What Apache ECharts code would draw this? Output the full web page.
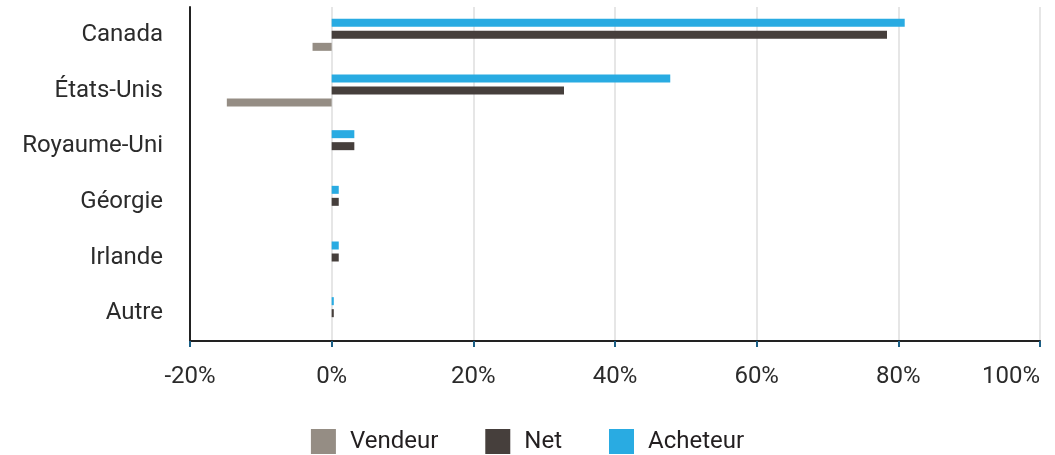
<!DOCTYPE html>
<html>
<head>
<meta charset="utf-8">
<script src="https://cdn.jsdelivr.net/npm/echarts@6/dist/echarts.min.js"></script>
<style>
html,body{margin:0;padding:0;background:#fff;overflow:hidden;}
#chart{width:1055px;height:455px;}
</style>
</head>
<body>
<div id="chart"></div>
<script>
const categories = ['Canada', 'États-Unis', 'Royaume-Uni', 'Géorgie', 'Irlande', 'Autre'];
const vendeur = [-2.7, -14.8, 0, 0, 0, 0];
const net = [78.4, 32.8, 3.2, 1.0, 1.0, 0.3];
const acheteur = [80.9, 47.8, 3.2, 1.0, 1.0, 0.3];
const xTicks = [-20, 0, 20, 40, 60, 80, 100];
const legendNames = ['Vendeur', 'Net', 'Acheteur'];

const FONT = 'Roboto';
const chart = echarts.init(document.getElementById('chart'), null, {renderer: 'canvas', width: 1055, height: 455});
chart.setOption({
  animation: false,
  backgroundColor: '#ffffff',
  textStyle: {fontFamily: FONT},
  grid: {left: 190, right: 15, top: 7, bottom: 114, containLabel: false, outerBoundsMode: 'none'},
  legend: {
    data: legendNames,
    left: 'center',
    top: 424,
    itemWidth: 25,
    itemHeight: 25,
    itemGap: 47,
    icon: 'rect',
    textStyle: {fontFamily: FONT, fontSize: 24, color: '#231f20', padding: [0, 0, 0, 9]}
  },
  xAxis: {
    type: 'value',
    min: xTicks[0],
    max: xTicks[xTicks.length - 1],
    interval: 20,
    axisLine: {show: true, onZero: false, lineStyle: {color: '#222222', width: 2}},
    axisTick: {show: true, length: 6, lineStyle: {color: '#1b5f86', width: 2}},
    axisLabel: {
      margin: 24,
      fontFamily: FONT,
      fontSize: 24,
      color: '#2b2b2b',
      alignMaxLabel: 'right',
      formatter: v => v + '%'
    },
    splitLine: {show: true, lineStyle: {color: '#e6e6e6', width: 2}}
  },
  yAxis: {
    type: 'category',
    data: categories,
    inverse: true,
    axisLine: {show: true, onZero: false, lineStyle: {color: '#222222', width: 2}},
    axisTick: {show: false},
    axisLabel: {margin: 27, fontFamily: FONT, fontSize: 24, color: '#2b2b2b'},
    splitLine: {show: false}
  },
  series: [
    {name: 'Acheteur', type: 'bar', data: acheteur, barWidth: 8, barGap: '50%',
     itemStyle: {color: '#29abe2'}},
    {name: 'Net', type: 'bar', data: net, barWidth: 8, barGap: '50%',
     itemStyle: {color: '#463f3c'}},
    {name: 'Vendeur', type: 'bar', data: vendeur, barWidth: 8, barGap: '50%',
     itemStyle: {color: '#958d84'}}
  ]
});
</script>
</body>
</html>
